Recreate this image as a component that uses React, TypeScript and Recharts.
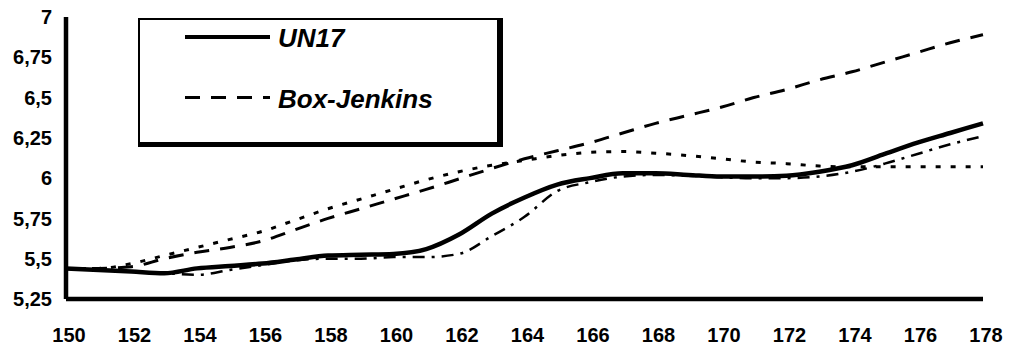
import React from 'react';
import { LineChart, Line, XAxis, YAxis, Legend } from 'recharts';

// ── Data ──────────────────────────────────────────────────────────────────────
const YEARS = [
  150, 151, 152, 153, 154, 155, 156, 157, 158, 159, 160, 161, 162, 163, 164,
  165, 166, 167, 168, 169, 170, 171, 172, 173, 174, 175, 176, 177, 178,
];
const UN17 = [
  5.44, 5.43, 5.42, 5.41, 5.44, 5.455, 5.47, 5.495, 5.52, 5.525, 5.53, 5.56, 5.65, 5.78, 5.88,
  5.96, 6.0, 6.03, 6.03, 6.02, 6.01, 6.01, 6.015, 6.04, 6.08, 6.15, 6.22, 6.28, 6.34,
];
const BOX_JENKINS = [
  5.44, 5.44, 5.45, 5.5, 5.54, 5.57, 5.61, 5.68, 5.75, 5.81, 5.87, 5.93, 5.995, 6.06, 6.12,
  6.17, 6.22, 6.28, 6.34, 6.39, 6.44, 6.5, 6.55, 6.61, 6.66, 6.72, 6.78, 6.84, 6.89,
];
const DOTTED = [
  5.44, 5.44, 5.47, 5.52, 5.57, 5.62, 5.67, 5.74, 5.81, 5.87, 5.93, 5.99, 6.04, 6.08, 6.11,
  6.14, 6.16, 6.165, 6.155, 6.14, 6.12, 6.1, 6.09, 6.075, 6.07, 6.07, 6.07, 6.07, 6.07,
];
const DASH_DOT = [
  5.44, 5.43, 5.42, 5.41, 5.4, 5.43, 5.46, 5.49, 5.5, 5.5, 5.51, 5.51, 5.53, 5.64, 5.76,
  5.92, 5.975, 6.01, 6.02, 6.015, 6.005, 6.0, 6.0, 6.01, 6.04, 6.09, 6.15, 6.21, 6.26,
];

const X_TICKS = [150, 152, 154, 156, 158, 160, 162, 164, 166, 168, 170, 172, 174, 176, 178];
const Y_TICKS = [5.25, 5.5, 5.75, 6, 6.25, 6.5, 6.75, 7];
const LEGEND_ORDER = ['UN17', 'Box-Jenkins'];

const data = YEARS.map((year, i) => ({
  year,
  un17: UN17[i],
  boxJenkins: BOX_JENKINS[i],
  dotted: DOTTED[i],
  dashDot: DASH_DOT[i],
}));

// ── Geometry ─────────────────────────────────────────────────────────────────
const W = 1009;
const H = 346;
const MARGIN = { top: 17, right: 26, bottom: 0, left: 0 };
const Y_AXIS_W = 66;
const X_AXIS_H = 47;
const PLOT_W = W - MARGIN.left - MARGIN.right - Y_AXIS_W;
const PLOT_H = H - MARGIN.top - MARGIN.bottom - X_AXIS_H;
const X_STEP = PLOT_W / (X_TICKS.length - 1);
const Y_STEP = PLOT_H / (Y_TICKS.length - 1);

const FONT = '"Liberation Sans", Arial, Helvetica, sans-serif';
const TICK_TEXT = { fill: '#000', fontSize: 20, fontWeight: 'bold', fontFamily: FONT };
const AXIS_LINE = { stroke: '#000', strokeWidth: 4.5 };

// Cross-shaped tick marks: a thick dashed line laid over each axis, one short
// dash centred on every tick (half dash, gap, half dash per tick interval).
const HALF = 1.75;
const X_MARKS = {
  stroke: '#000',
  strokeWidth: 18,
  strokeDasharray: `${HALF} ${X_STEP - 2 * HALF} ${HALF} 0`,
};
const Y_MARKS = {
  stroke: '#000',
  strokeWidth: 18,
  strokeDasharray: `${HALF} ${Y_STEP - 2 * HALF} ${HALF} 0`,
};

// ── Boxed legend with a heavy drop edge ──────────────────────────────────────
const SAMPLE: Record<string, React.CSSProperties> = {
  UN17: { height: 4, background: '#000' },
  'Box-Jenkins': {
    height: 3,
    background: 'repeating-linear-gradient(to right, #000 0 15px, transparent 15px 26px)',
  },
};

const BoxLegend = ({ payload }: any) => {
  const items = LEGEND_ORDER.filter((name) => (payload || []).some((p: any) => p.value === name));
  return (
    <div
      style={{
        position: 'relative',
        boxSizing: 'border-box',
        width: 365,
        height: 129,
        borderTop: '2px solid #000',
        borderLeft: '2px solid #000',
        borderRight: '6px solid #000',
        borderBottom: '5px solid #000',
        background: '#fff',
        fontFamily: FONT,
      }}
    >
      {items.map((name, i) => (
        <React.Fragment key={name}>
          <div style={{ position: 'absolute', left: 45, top: 15 + i * 61, width: 85, ...SAMPLE[name] }} />
          <div
            style={{
              position: 'absolute',
              left: 138,
              top: 5 + i * 61,
              fontSize: 26,
              lineHeight: '26px',
              fontWeight: 'bold',
              fontStyle: 'italic',
              color: '#000',
              whiteSpace: 'nowrap',
            }}
          >
            {name}
          </div>
        </React.Fragment>
      ))}
    </div>
  );
};

export default function App() {
  return (
    <div style={{ position: 'absolute', left: 0, top: 0, background: '#fff' }}>
      <LineChart width={W} height={H} data={data} margin={MARGIN}>
        {/* zero-size axes that only carry the tick crosses */}
        <XAxis
          xAxisId="marks"
          dataKey="year"
          type="number"
          domain={[150, 178]}
          height={0}
          tick={false}
          tickLine={false}
          axisLine={X_MARKS}
        />
        <YAxis
          yAxisId="marks"
          type="number"
          domain={[5.25, 7]}
          width={0}
          tick={false}
          tickLine={false}
          axisLine={Y_MARKS}
        />
        <XAxis
          dataKey="year"
          type="number"
          domain={[150, 178]}
          ticks={X_TICKS}
          interval={0}
          height={X_AXIS_H}
          tickSize={18}
          tickMargin={11}
          tickLine={false}
          axisLine={AXIS_LINE}
          tick={{ ...TICK_TEXT, dx: 3 }}
        />
        <YAxis
          type="number"
          domain={[5.25, 7]}
          ticks={Y_TICKS}
          interval={0}
          width={Y_AXIS_W}
          tickSize={18}
          tickMargin={0}
          tickLine={false}
          axisLine={AXIS_LINE}
          tick={{ ...TICK_TEXT, dx: 4 }}
          tickFormatter={(v: number) => String(v).replace('.', ',')}
        />
        <Legend
          layout="vertical"
          align="center"
          verticalAlign="middle"
          wrapperStyle={{ left: 138, top: 18, width: 365, height: 129 }}
          content={(props: any) => <BoxLegend {...props} />}
        />
        <Line xAxisId="marks" yAxisId="marks" type="monotone" dataKey="dotted" stroke="#000" strokeWidth={3} strokeDasharray="5 10" dot={false} legendType="none" isAnimationActive={false} />
        <Line type="monotone" dataKey="dashDot" stroke="#000" strokeWidth={2.5} strokeDasharray="12 7 3 7" dot={false} legendType="none" isAnimationActive={false} />
        <Line type="monotone" dataKey="boxJenkins" name="Box-Jenkins" stroke="#000" strokeWidth={3} strokeDasharray="15 11" dot={false} isAnimationActive={false} />
        <Line type="monotone" dataKey="un17" name="UN17" stroke="#000" strokeWidth={4.5} dot={false} isAnimationActive={false} />
      </LineChart>
    </div>
  );
}
